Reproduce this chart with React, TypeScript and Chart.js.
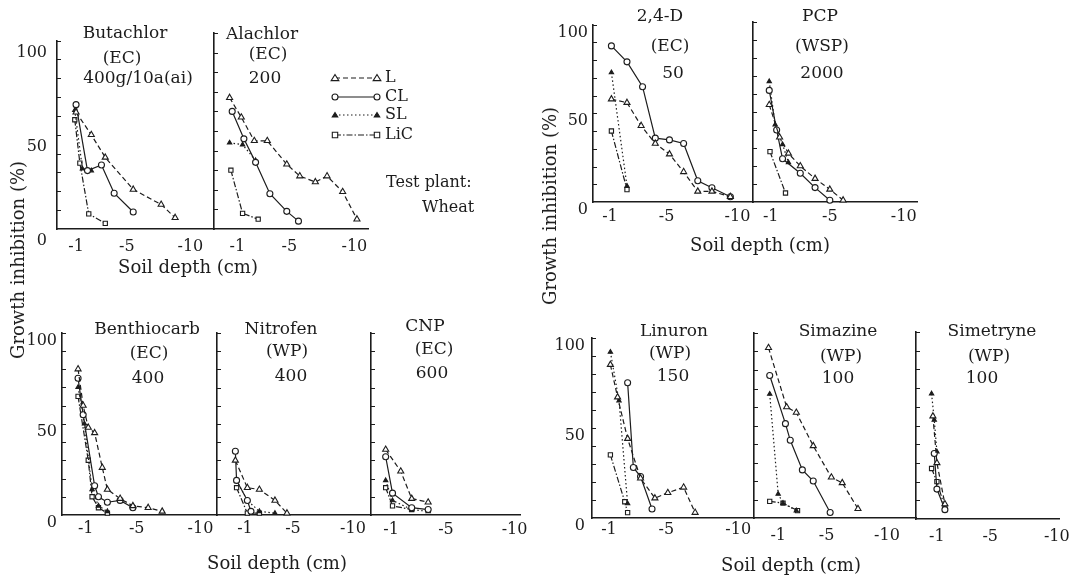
import React, { useEffect, useRef } from 'react';
import { Chart, registerables } from 'chart.js';

Chart.register(...registerables);

type Pt = [number, number];

// ---------- data ----------
const seriesNames = ['L', 'CL', 'SL', 'LiC'];
const depthTicks = [-1, -5, -10];
const inhibitionTicks = [0, 50, 100];
const minorInhibitionTicks = [10, 20, 30, 40, 60, 70, 80, 90];

// Butachlor (EC) 400g/10a(ai)
const butachlorL: Pt[] = [[-1, 62], [-2.2, 50], [-3.3, 38], [-5.5, 21], [-7.7, 13], [-8.8, 6]];
const butachlorCL: Pt[] = [[-1, 66], [-1.9, 31], [-3, 34], [-4, 19], [-5.5, 9]];
const butachlorSL: Pt[] = [[-0.9, 63], [-1.5, 32], [-2.2, 31]];
const butachlorLiC: Pt[] = [[-0.9, 58], [-1.3, 35], [-2, 8], [-3.3, 3]];

// Alachlor (EC) 200
const alachlorL: Pt[] = [[-0.4, 67], [-1.3, 57], [-2.3, 45], [-3.3, 45], [-4.8, 33], [-5.8, 27], [-7, 24], [-7.9, 27], [-9.1, 19], [-10.2, 5]];
const alachlorCL: Pt[] = [[-0.6, 60], [-1.5, 46], [-2.4, 34], [-3.5, 18], [-4.8, 9], [-5.7, 4]];
const alachlorSL: Pt[] = [[-0.4, 44], [-1.4, 43], [-2.4, 35]];
const alachlorLiC: Pt[] = [[-0.5, 30], [-1.4, 8], [-2.6, 5]];

// 2,4-D (EC) 50
const d24L: Pt[] = [[-1.1, 58], [-2.2, 56], [-3.2, 43], [-4.2, 33], [-5.2, 27], [-6.2, 17], [-7.2, 6], [-8.2, 6], [-9.5, 3]];
const d24CL: Pt[] = [[-1.1, 88], [-2.2, 79], [-3.3, 65], [-4.2, 36], [-5.2, 35], [-6.2, 33], [-7.2, 12], [-8.2, 8], [-9.5, 3]];
const d24SL: Pt[] = [[-1.1, 73], [-2.2, 9]];
const d24LiC: Pt[] = [[-1.1, 40], [-2.2, 7]];

// PCP (WSP) 2000
const pcpL: Pt[] = [[-0.9, 54], [-1.6, 36], [-2.2, 27], [-3, 20], [-4, 13], [-5, 7], [-5.9, 1]];
const pcpCL: Pt[] = [[-0.9, 62], [-1.4, 40], [-1.8, 24], [-3, 16], [-4, 8], [-5, 1]];
const pcpSL: Pt[] = [[-0.9, 67], [-1.3, 43], [-1.8, 32], [-2.2, 22]];
const pcpLiC: Pt[] = [[-0.95, 28], [-2, 5]];

// Benthiocarb (EC) 400
const benthiocarbL: Pt[] = [[-0.4, 80], [-0.8, 60], [-1.2, 48], [-1.7, 45], [-2.3, 26], [-2.7, 14], [-3.7, 9], [-4.7, 5], [-5.9, 4], [-7, 2]];
const benthiocarbCL: Pt[] = [[-0.4, 75], [-0.8, 55], [-1.7, 16], [-2, 10], [-2.7, 7], [-3.7, 8], [-4.7, 4]];
const benthiocarbSL: Pt[] = [[-0.4, 70], [-0.9, 50], [-1.5, 14], [-2, 5], [-2.7, 2]];
const benthiocarbLiC: Pt[] = [[-0.4, 65], [-1.2, 30], [-1.5, 10], [-2, 4], [-2.7, 1]];

// Nitrofen (WP) 400
const nitrofenL: Pt[] = [[-0.2, 30], [-1.2, 15], [-2.2, 14], [-3.5, 8], [-4.5, 1]];
const nitrofenCL: Pt[] = [[-0.2, 35], [-0.3, 19], [-1.2, 8], [-1.5, 2]];
const nitrofenSL: Pt[] = [[-0.3, 19], [-1.2, 8], [-2.2, 2], [-3.5, 1]];
const nitrofenLiC: Pt[] = [[-0.3, 15], [-1.2, 1], [-2.2, 1]];

// CNP (EC) 600
const cnpL: Pt[] = [[-0.6, 36], [-1.7, 24], [-2.5, 9], [-3.7, 7]];
const cnpCL: Pt[] = [[-0.6, 32], [-1.1, 12], [-2.5, 4], [-3.7, 3]];
const cnpSL: Pt[] = [[-0.6, 19], [-1.1, 8], [-2.5, 3], [-3.7, 2]];
const cnpLiC: Pt[] = [[-0.6, 15], [-1.1, 5], [-2.5, 3]];

// Linuron (WP) 150
const linuronL: Pt[] = [[-1.1, 85], [-1.6, 67], [-2.3, 44], [-3.2, 22], [-4.2, 11], [-5.1, 14], [-6.2, 17], [-7, 3]];
const linuronCL: Pt[] = [[-2.3, 75], [-2.7, 28], [-3.2, 23], [-4, 5]];
const linuronSL: Pt[] = [[-1.1, 92], [-1.7, 65], [-2.3, 8]];
const linuronLiC: Pt[] = [[-1.1, 35], [-2.1, 9], [-2.3, 3]];

// Simazine (WP) 100
const simazineL: Pt[] = [[-0.2, 92], [-1.7, 60], [-2.5, 57], [-3.9, 39], [-5.4, 22], [-6.3, 19], [-7.6, 5]];
const simazineCL: Pt[] = [[-0.3, 77], [-1.6, 51], [-2, 42], [-3, 26], [-3.9, 20], [-5.3, 3]];
const simazineSL: Pt[] = [[-0.3, 67], [-1, 13], [-1.4, 8], [-2.5, 4]];
const simazineLiC: Pt[] = [[-0.3, 9], [-1.4, 8], [-2.6, 4]];

// Simetryne (WP) 100
const simetryneL: Pt[] = [[-0.7, 55], [-1, 30], [-1.6, 8]];
const simetryneCL: Pt[] = [[-0.8, 35], [-1, 16], [-1.6, 5]];
const simetryneSL: Pt[] = [[-0.6, 67], [-0.8, 53], [-1, 36]];
const simetryneLiC: Pt[] = [[-0.6, 27], [-1, 20], [-1.6, 6]];

// ---------- styling / layout ----------
const ink = '#1c1c1c';
const serif = '"DejaVu Serif", "Liberation Serif", serif';

type Style = { dash: number[]; point: string; radius: number; fill: string };
const seriesStyles: Style[] = [
  { dash: [5, 3], point: 'triangle', radius: 3.5, fill: '#fff' },
  { dash: [], point: 'circle', radius: 3, fill: '#fff' },
  { dash: [1.5, 2.5], point: 'triangle', radius: 2.5, fill: ink },
  { dash: [6, 2, 1.5, 2], point: 'rect', radius: 3, fill: '#fff' },
];

interface PanelCfg {
  key: string;
  title: string[];
  titlePos: [number, number][];
  data: Pt[][];
  axisX: number;
  top: number;
  bottom: number;
  right: number;
  xHi: number;
  xLo: number;
  showY?: boolean;
  yOff?: number;
  yPad?: number;
  xPad: number;
  legend?: boolean;
}

const panels: PanelCfg[] = [
  { key: 'butachlor', title: ['Butachlor', '(EC)', '400g/10a(ai)'], titlePos: [[125, 32], [122, 57], [138, 77]],
    data: [butachlorL, butachlorCL, butachlorSL, butachlorLiC], axisX: 57, top: 33, bottom: 229, right: 214,
    xHi: 0.5, xLo: -11.86, showY: true, yOff: 12, yPad: 10, xPad: 8 },
  { key: 'alachlor', title: ['Alachlor', '(EC)', '200'], titlePos: [[262, 33], [268, 53], [265, 77]],
    data: [alachlorL, alachlorCL, alachlorSL, alachlorLiC], axisX: 214, top: 33, bottom: 229, right: 368,
    xHi: 0.8, xLo: -11.05, xPad: 8, legend: true },
  { key: 'd24', title: ['2,4-D', '(EC)', '50'], titlePos: [[660, 15], [670, 45], [673, 72]],
    data: [d24L, d24CL, d24SL, d24LiC], axisX: 593, top: 22, bottom: 202, right: 753,
    xHi: 0.2, xLo: -11.1, showY: true, yOff: 8, yPad: 5, xPad: 5 },
  { key: 'pcp', title: ['PCP', '(WSP)', '2000'], titlePos: [[820, 15], [822, 45], [822, 72]],
    data: [pcpL, pcpCL, pcpSL, pcpLiC], axisX: 753, top: 22, bottom: 202, right: 917,
    xHi: 0.2, xLo: -10.9, xPad: 5 },
  { key: 'benthiocarb', title: ['Benthiocarb', '(EC)', '400'], titlePos: [[147, 328], [149, 352], [148, 377]],
    data: [benthiocarbL, benthiocarbCL, benthiocarbSL, benthiocarbLiC], axisX: 62, top: 330, bottom: 515, right: 217,
    xHi: 0.86, xLo: -11.3, showY: true, yOff: 8, yPad: 5, xPad: 4 },
  { key: 'nitrofen', title: ['Nitrofen', '(WP)', '400'], titlePos: [[281, 328], [287, 350], [291, 375]],
    data: [nitrofenL, nitrofenCL, nitrofenSL, nitrofenLiC], axisX: 217, top: 333, bottom: 515, right: 371,
    xHi: 1.33, xLo: -11.5, xPad: 4 },
  { key: 'cnp', title: ['CNP', '(EC)', '600'], titlePos: [[425, 325], [434, 348], [432, 372]],
    data: [cnpL, cnpCL, cnpSL, cnpLiC], axisX: 371, top: 333, bottom: 515, right: 520,
    xHi: 0.47, xLo: -10.4, xPad: 5 },
  { key: 'linuron', title: ['Linuron', '(WP)', '150'], titlePos: [[674, 330], [670, 352], [673, 375]],
    data: [linuronL, linuronCL, linuronSL, linuronLiC], axisX: 592, top: 333, bottom: 518, right: 754,
    xHi: 0.18, xLo: -11.1, showY: true, yOff: 8, yPad: 7, xPad: 2 },
  { key: 'simazine', title: ['Simazine', '(WP)', '100'], titlePos: [[838, 330], [841, 355], [838, 377]],
    data: [simazineL, simazineCL, simazineSL, simazineLiC], axisX: 754, top: 333, bottom: 518, right: 916,
    xHi: 1.0, xLo: -12.4, xPad: 8 },
  { key: 'simetryne', title: ['Simetryne', '(WP)', '100'], titlePos: [[992, 330], [989, 355], [982, 377]],
    data: [simetryneL, simetryneCL, simetryneSL, simetryneLiC], axisX: 916, top: 332, bottom: 519, right: 1062,
    xHi: 0.57, xLo: -10.2, xPad: 8 },
];

const depthLabels: [number, number][] = [[188, 267], [760, 245], [277, 563], [791, 565]];
const inhibitionLabels: [number, number][] = [[18, 260], [550, 206]];

function drawMarker(ctx: CanvasRenderingContext2D, st: Style, x: number, y: number) {
  const r = st.radius;
  ctx.beginPath();
  if (st.point === 'circle') {
    ctx.arc(x, y, r, 0, Math.PI * 2);
  } else if (st.point === 'triangle') {
    const h = r * 1.5;
    ctx.moveTo(x, y - h * 0.67);
    ctx.lineTo(x + r * 1.1, y + h * 0.5);
    ctx.lineTo(x - r * 1.1, y + h * 0.5);
    ctx.closePath();
  } else {
    ctx.rect(x - r * 0.9, y - r * 0.9, r * 1.8, r * 1.8);
  }
  ctx.fillStyle = st.fill;
  ctx.fill();
  ctx.lineWidth = 1.1;
  ctx.strokeStyle = ink;
  ctx.stroke();
}

// small inward tick marks along each vertical axis, placed through the y scale
const inwardTicks = {
  id: 'inwardTicks',
  afterDraw(chart: any) {
    const { ctx, chartArea, scales } = chart;
    ctx.save();
    ctx.strokeStyle = ink;
    ctx.lineWidth = 1;
    minorInhibitionTicks.concat([50, 100]).forEach((v) => {
      const y = Math.round(scales.y.getPixelForValue(v)) + 0.5;
      ctx.beginPath();
      ctx.moveTo(chartArea.left, y);
      ctx.lineTo(chartArea.left + 4, y);
      ctx.stroke();
    });
    ctx.restore();
  },
};

const TOP_PAD = 12;
const X_H = 34;

function Panel({ cfg }: { cfg: PanelCfg }) {
  const ref = useRef<HTMLCanvasElement | null>(null);
  const yW = cfg.showY ? 50 : 6;
  const padR = cfg.legend ? 60 : 16;
  const left = cfg.axisX - yW;
  const top = cfg.top - TOP_PAD;
  const width = cfg.right - left + padR;
  const height = cfg.bottom - top + X_H;

  useEffect(() => {
    if (!ref.current) return;
    const plugins: any[] = [inwardTicks];
    if (cfg.legend) {
      plugins.push({
        id: 'seriesKey',
        afterDraw(chart: any) {
          const { ctx, chartArea } = chart;
          const rows = [45, 64, 82, 102];
          ctx.save();
          seriesNames.forEach((name, i) => {
            const st = seriesStyles[i];
            const y = chartArea.top + rows[i];
            const x0 = chartArea.right - 33;
            const x1 = chartArea.right + 9;
            ctx.strokeStyle = ink;
            ctx.lineWidth = 1.2;
            ctx.setLineDash(st.dash);
            ctx.beginPath();
            ctx.moveTo(x0, y);
            ctx.lineTo(x1, y);
            ctx.stroke();
            ctx.setLineDash([]);
            drawMarker(ctx, st, x0, y);
            drawMarker(ctx, st, x1, y);
            ctx.fillStyle = ink;
            ctx.font = `16px ${serif}`;
            ctx.textBaseline = 'middle';
            ctx.textAlign = 'left';
            ctx.fillText(name, chartArea.right + 17, y);
          });
          ctx.restore();
        },
      });
    }
    const chart = new Chart(ref.current, {
      type: 'scatter',
      data: {
        datasets: cfg.data.map((pts, i) => {
          const st = seriesStyles[i];
          return {
            label: seriesNames[i],
            data: pts.map(([x, y]) => ({ x, y })),
            showLine: true,
            borderColor: ink,
            backgroundColor: st.fill,
            borderWidth: 1.2,
            borderDash: st.dash,
            pointStyle: st.point as any,
            pointRadius: st.radius,
            pointBorderWidth: 1.1,
            pointBorderColor: ink,
            pointBackgroundColor: st.fill,
            tension: 0,
            fill: false,
            clip: false as any,
          };
        }),
      },
      options: {
        animation: false,
        responsive: false,
        devicePixelRatio: 1,
        layout: { padding: { top: TOP_PAD, right: padR, left: 0, bottom: 0 } },
        plugins: { legend: { display: false }, tooltip: { enabled: false } },
        scales: {
          x: {
            type: 'linear',
            reverse: true,
            min: cfg.xLo,
            max: cfg.xHi,
            afterBuildTicks: (s: any) => { s.ticks = depthTicks.map((v) => ({ value: v })); },
            afterFit: (s: any) => { s.height = X_H; },
            grid: { display: false, drawTicks: false },
            border: { display: true, color: ink, width: 1.6 },
            ticks: {
              font: { family: serif, size: 16 },
              color: ink,
              padding: cfg.xPad,
              maxRotation: 0,
              autoSkip: false,
              callback: (v: any) => String(v),
            },
          },
          y: {
            type: 'linear',
            min: 0,
            max: 100,
            afterBuildTicks: (s: any) => { s.ticks = inhibitionTicks.map((v) => ({ value: v })); },
            afterFit: (s: any) => { s.width = yW; },
            grid: { display: false, drawTicks: false },
            border: { display: true, color: ink, width: 1.6 },
            ticks: {
              display: !!cfg.showY,
              labelOffset: cfg.yOff || 0,
              padding: cfg.yPad || 0,
              font: { family: serif, size: 16 },
              color: ink,
              callback: (v: any) => String(v),
            },
          },
        },
      },
      plugins,
    } as any);
    return () => chart.destroy();
  }, [cfg]);

  return (
    <canvas
      ref={ref}
      width={width}
      height={height}
      style={{ position: 'absolute', left, top, width, height }}
    />
  );
}

const textStyle: React.CSSProperties = {
  position: 'absolute',
  whiteSpace: 'nowrap',
  fontFamily: serif,
  color: ink,
  lineHeight: 1,
};

export default function App() {
  return (
    <div style={{ position: 'absolute', left: 0, top: 0, width: 1073, height: 579, background: '#fff', overflow: 'hidden' }}>
      {panels.map((p) => (
        <Panel key={p.key} cfg={p} />
      ))}
      {panels.map((p) =>
        p.title.map((t, i) => (
          <div
            key={p.key + i}
            style={{ ...textStyle, fontSize: 17, left: p.titlePos[i][0], top: p.titlePos[i][1], transform: 'translate(-50%, -50%)' }}
          >
            {t}
          </div>
        ))
      )}
      {depthLabels.map(([x, y], i) => (
        <div key={'d' + i} style={{ ...textStyle, fontSize: 18, left: x, top: y, transform: 'translate(-50%, -50%)' }}>
          Soil depth (cm)
        </div>
      ))}
      {inhibitionLabels.map(([x, y], i) => (
        <div
          key={'g' + i}
          style={{ ...textStyle, fontSize: 18, left: x, top: y, transform: 'translate(-50%, -50%) rotate(-90deg)' }}
        >
          Growth inhibition (%)
        </div>
      ))}
      <div style={{ ...textStyle, fontSize: 16, left: 386, top: 182, transform: 'translateY(-50%)' }}>Test plant:</div>
      <div style={{ ...textStyle, fontSize: 16, left: 422, top: 207, transform: 'translateY(-50%)' }}>Wheat</div>
    </div>
  );
}
